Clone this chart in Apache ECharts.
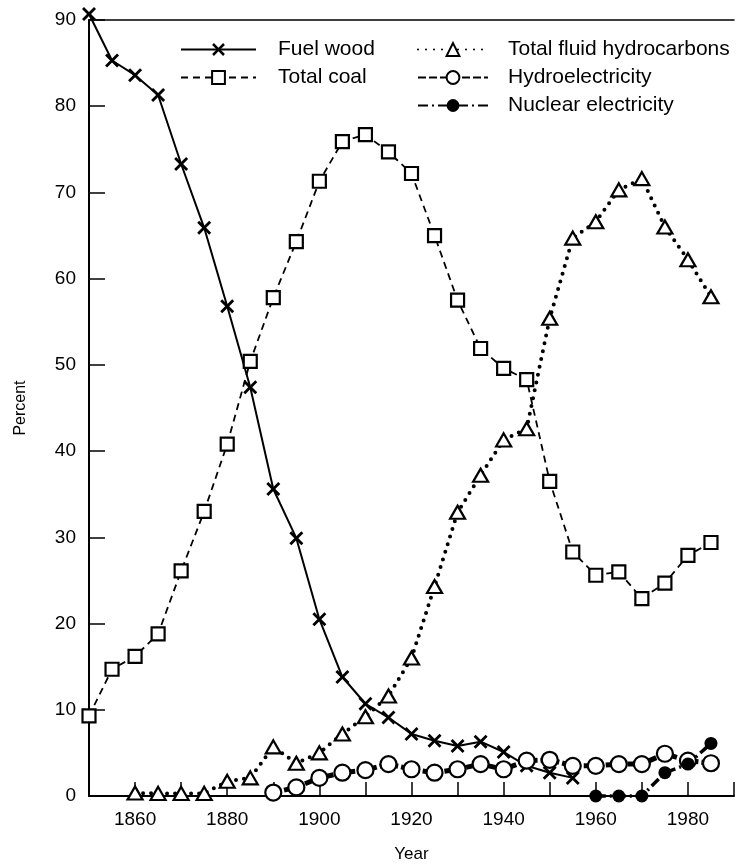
<!DOCTYPE html>
<html>
<head>
<meta charset="utf-8">
<script src="https://cdn.jsdelivr.net/npm/echarts@6/dist/echarts.min.js"></script>
<style>
  html, body { margin: 0; padding: 0; background: #fff; }
  #chart { width: 737px; height: 868px; }
</style>
</head>
<body>
<div id="chart"></div>
<script>
// years shared by all series (null = no point)
const years = [1850, 1855, 1860, 1865, 1870, 1875, 1880, 1885, 1890, 1895,
  1900, 1905, 1910, 1915, 1920, 1925, 1930, 1935, 1940, 1945,
  1950, 1955, 1960, 1965, 1970, 1975, 1980, 1985]

const fuelWood = [90.7, 85.3, 83.6, 81.3, 73.3, 65.9, 56.8, 47.4, 35.6, 29.9,
  20.5, 13.8, 10.7, 9.1, 7.2, 6.4, 5.8, 6.3, 5.1, 3.5,
  2.7, 2.1, null, null, null, null, null, null]

const totalCoal = [9.3, 14.7, 16.2, 18.8, 26.1, 33.0, 40.8, 50.4, 57.8, 64.3,
  71.3, 75.9, 76.7, 74.7, 72.2, 65.0, 57.5, 51.9, 49.6, 48.3,
  36.5, 28.3, 25.6, 26.0, 22.9, 24.7, 27.9, 29.4]

const fluidHydrocarbons = [null, null, 0.35, 0.3, 0.3, 0.3, 1.7, 2.1, 5.7, 3.8,
  5.0, 7.2, 9.2, 11.6, 16.0, 24.3, 32.9, 37.2, 41.3, 42.6,
  55.4, 64.7, 66.6, 70.3, 71.6, 66.0, 62.2, 57.9]

const hydroelectricity = [null, null, null, null, null, null, null, null, 0.4, 1.0,
  2.1, 2.7, 3.0, 3.7, 3.1, 2.7, 3.1, 3.7, 3.1, 4.1,
  4.2, 3.5, 3.5, 3.7, 3.7, 4.9, 4.1, 3.8]

const nuclearElectricity = [null, null, null, null, null, null, null, null, null, null,
  null, null, null, null, null, null, null, null, null, null,
  null, null, 0, 0, 0, 2.7, 3.7, 6.1]

const yTicks = [0, 10, 20, 30, 40, 50, 60, 70, 80, 90]

const font = "'Liberation Sans', Arial, sans-serif"
const ink = '#000'
// filled X shape for fuel wood
const crossSymbol = 'path://M2,0L7,5L12,0L14,2L9,7L14,12L12,14L7,9L2,14L0,12L5,7L0,2Z'

function pairs(values) {
    return years.map((y, i) => [y, values[i]])
}

const chart = echarts.init(document.getElementById('chart'))

const option = {
    backgroundColor: '#fff',
    animation: false,
    textStyle: { fontFamily: font, color: ink },
    grid: { left: 89, right: 0, top: 20, bottom: 71 },
    legend: [
        {
            data: ['Fuel wood', 'Total coal'],
            orient: 'vertical',
            left: 175,
            top: 34,
            itemWidth: 75,
            itemHeight: 16,
            itemGap: 7,
            selectedMode: false,
            textStyle: { fontFamily: font, fontSize: 21, color: ink, padding: [0, 0, 0, 17] }
        },
        {
            data: ['Total fluid hydrocarbons', 'Hydroelectricity', 'Nuclear electricity'],
            orient: 'vertical',
            left: 412,
            top: 34,
            itemWidth: 70,
            itemHeight: 16,
            itemGap: 7,
            selectedMode: false,
            textStyle: { fontFamily: font, fontSize: 21, color: ink, padding: [0, 0, 0, 15] }
        }
    ],
    xAxis: [
        {
            type: 'value',
            min: 1850,
            max: 1990,
            interval: 10,
            name: 'Year',
            nameLocation: 'middle',
            nameGap: 50,
            nameTextStyle: { fontSize: 17, color: ink },
            axisLine: { lineStyle: { color: ink, width: 2 } },
            axisTick: { inside: true, length: 14, lineStyle: { color: ink, width: 1.5 } },
            axisLabel: {
                margin: 14,
                fontSize: 19,
                color: ink,
                formatter: v => (v % 20 === 0 ? String(v) : '')
            },
            splitLine: { show: false }
        },
        {
            type: 'value',
            position: 'top',
            min: 1850,
            max: 1990,
            axisLine: { show: true, lineStyle: { color: ink, width: 1.5 } },
            axisTick: { show: false },
            axisLabel: { show: false },
            splitLine: { show: false }
        }
    ],
    yAxis: {
        type: 'value',
        min: yTicks[0],
        max: yTicks[yTicks.length - 1],
        interval: 10,
        name: 'Percent',
        nameLocation: 'middle',
        nameRotate: 90,
        nameGap: 60,
        nameTextStyle: { fontSize: 16, color: ink },
        axisLine: { show: true, lineStyle: { color: ink, width: 2 } },
        axisTick: { inside: true, length: 16, lineStyle: { color: ink, width: 1.5 } },
        axisLabel: { margin: 13, fontSize: 19, color: ink },
        splitLine: { show: false }
    },
    series: [
        {
            name: 'Fuel wood',
            type: 'line',
            data: pairs(fuelWood),
            clip: false,
            symbol: crossSymbol,
            symbolSize: 14,
            lineStyle: { color: ink, width: 2, type: 'solid' },
            itemStyle: { color: ink },
            z: 3
        },
        {
            name: 'Total coal',
            type: 'line',
            data: pairs(totalCoal),
            clip: false,
            symbol: 'rect',
            symbolSize: 13,
            lineStyle: { color: ink, width: 1.8, type: [7, 5] },
            itemStyle: { color: '#fff', borderColor: ink, borderWidth: 2.2 },
            z: 3
        },
        {
            name: 'Total fluid hydrocarbons',
            type: 'line',
            data: pairs(fluidHydrocarbons),
            symbol: 'triangle',
            symbolSize: [15, 13],
            lineStyle: { color: ink, width: 4, type: [0, 8], cap: 'round' },
            itemStyle: { color: '#fff', borderColor: ink, borderWidth: 2.2 },
            z: 3
        },
        {
            name: 'Hydroelectricity',
            type: 'line',
            data: pairs(hydroelectricity),
            symbol: 'circle',
            symbolSize: 16,
            lineStyle: { color: ink, width: 5, type: [8, 3] },
            itemStyle: { color: '#fff', borderColor: ink, borderWidth: 2.2 },
            z: 4
        },
        {
            name: 'Nuclear electricity',
            type: 'line',
            data: pairs(nuclearElectricity),
            clip: false,
            symbol: 'circle',
            symbolSize: 13,
            lineStyle: { color: ink, width: 3.5, type: [10, 4, 2, 4] },
            itemStyle: { color: ink },
            z: 5
        }
    ]
}

chart.setOption(option)
</script>
</body>
</html>
